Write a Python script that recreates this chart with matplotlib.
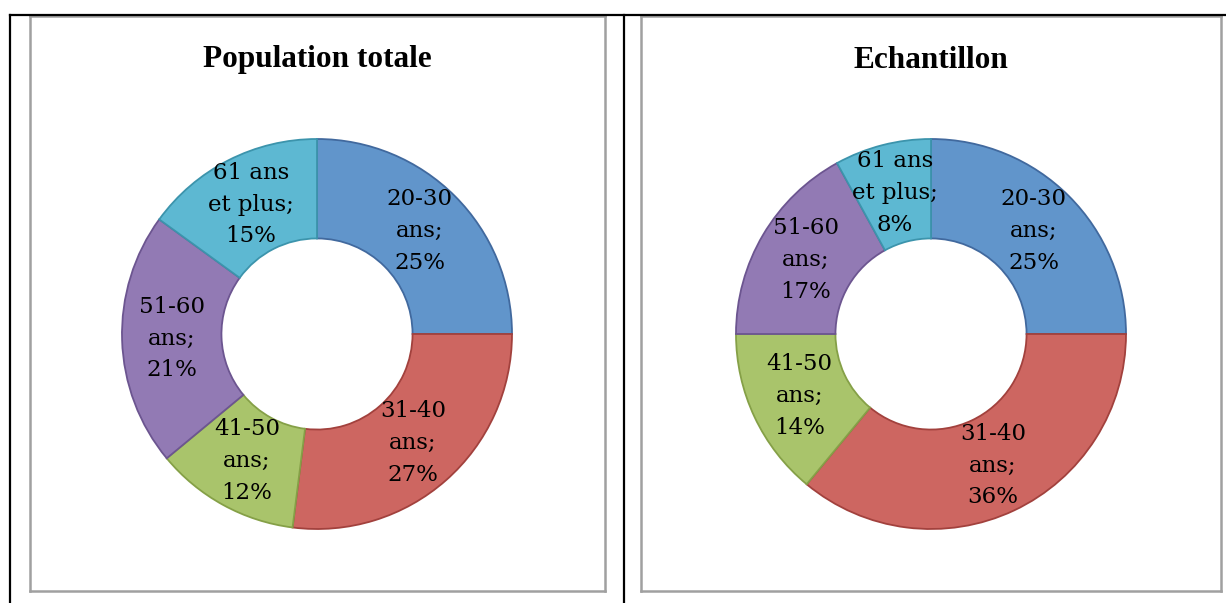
import numpy as np
import matplotlib.pyplot as plt
from matplotlib.lines import Line2D

categories = ["20-30\nans", "31-40\nans", "41-50\nans", "51-60\nans", "61 ans\net plus"]
population = [25, 27, 12, 21, 15]
echantillon = [25, 36, 14, 17, 8]
titles = ["Population totale", "Echantillon"]

colors = ["#6195CB", "#CD6661", "#A9C46B", "#927AB4", "#5DB8D2"]
edges = ["#41699E", "#A2413D", "#85A047", "#6C5590", "#3C94AC"]

W, H = 1226, 603
fig = plt.figure(figsize=(W / 100, H / 100), dpi=100)


def fx(px):
    return px / W


def fy(py):
    return 1 - py / H


# table borders
for xs, ys in [((10, 1226), (15, 15)), ((10, 10), (15, 603)), ((624, 624), (15, 603))]:
    fig.add_artist(Line2D([fx(x) for x in xs], [fy(y) for y in ys],
                          transform=fig.transFigure, color="black", lw=1.6))


def donut(left_px, box, values, title):
    # gray chart frame
    bx0, by0, bx1, by1 = box
    frame = fig.add_axes([fx(bx0), fy(by1), fx(bx1 - bx0), (by1 - by0) / H])
    frame.set_xticks([])
    frame.set_yticks([])
    for s in frame.spines.values():
        s.set_color("#A0A0A0")
        s.set_linewidth(1.8)
    frame.text(0.5, 1 - (60 - by0) / (by1 - by0), title, transform=frame.transAxes,
               ha="center", va="center", fontsize=22.5, fontweight="bold",
               family="Liberation Serif")

    ax = fig.add_axes([fx(left_px), fy(529), fx(390), 390 / H])
    labels = [f"{c};\n{v}%" for c, v in zip(categories, values)]
    wedges, texts = ax.pie(values, labels=labels, colors=colors, startangle=90,
                           counterclock=False, radius=1, labeldistance=0.745,
                           wedgeprops=dict(width=0.51, linewidth=1.3))
    for w, ec in zip(wedges, edges):
        w.set_edgecolor(ec)
    for t in texts:
        t.set_ha("center")
        t.set_va("center")
        t.set_fontsize(16.5)
        t.set_family("DejaVu Serif")
        t.set_linespacing(1.58)
    ax.set_xlim(-1, 1)
    ax.set_ylim(-1, 1)
    ax.set_aspect("equal")


donut(122, (30, 16, 605, 591), population, titles[0])
donut(736, (641, 16, 1221, 591), echantillon, titles[1])

fig.savefig("out.png", dpi=100)
